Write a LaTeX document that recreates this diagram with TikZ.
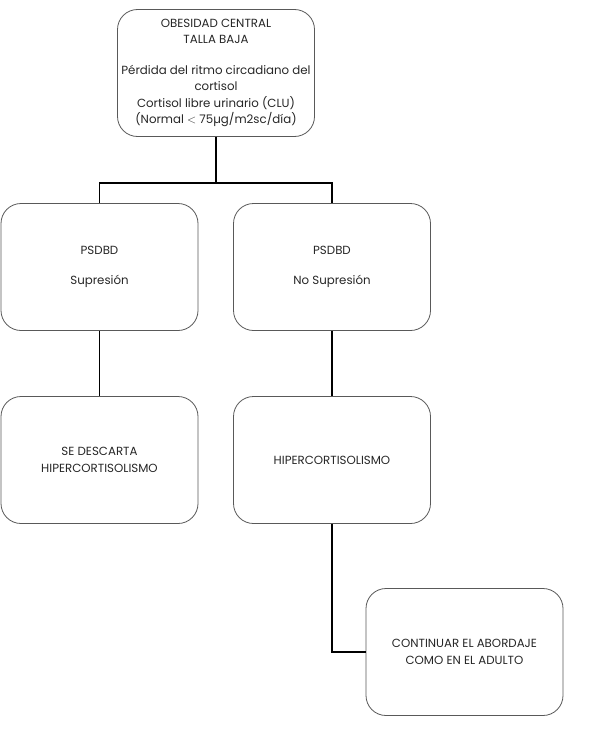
\documentclass[tikz,border=0pt]{standalone}
\usepackage{fontspec}
\setmainfont{Poppins}
\usetikzlibrary{positioning}

\begin{document}
\begin{tikzpicture}[x=1pt,y=-1pt]

\tikzstyle{every node}=[draw=black!65,rounded corners=20pt,line width=0.8pt,minimum width=197pt,minimum height=127pt,align=center,inner sep=2pt,anchor=center,font=\fontsize{11.8}{16.5}\selectfont\color{black!85}];

\useasboundingbox (0,0) rectangle (593,736);

% Draw the decision boxes
\node (top) at (216,73) {OBESIDAD CENTRAL\\TALLA BAJA\\[14pt]P\'erdida del ritmo circadiano del\\cortisol\\Cortisol libre urinario (CLU)\\(Normal $<$ 75\textmu g/m2sc/d\'ia)};
\node (supr) at (99.5,267) {PSDBD\\[14pt]Supresi\'on};
\node (nosupr) at (332,267) {PSDBD\\[14pt]No Supresi\'on};
\node (descarta) at (99.5,460) {SE DESCARTA\\HIPERCORTISOLISMO};
\node (hiper) at (332,460) {HIPERCORTISOLISMO};
\node (adulto) at (464.5,652) {CONTINUAR EL ABORDAJE\\COMO EN EL ADULTO};

\tikzset{every path/.append style={line width=1.2pt,black}};

% Connectors
\draw (top.south) -- ++(0,46) -| (supr.north);
\draw (top.south) -- ++(0,46) -| (nosupr.north);
\draw (supr) -- (descarta);
\draw (nosupr) -- (hiper);
\draw (hiper.south) |- (adulto.west);

\end{tikzpicture}
\end{document}
